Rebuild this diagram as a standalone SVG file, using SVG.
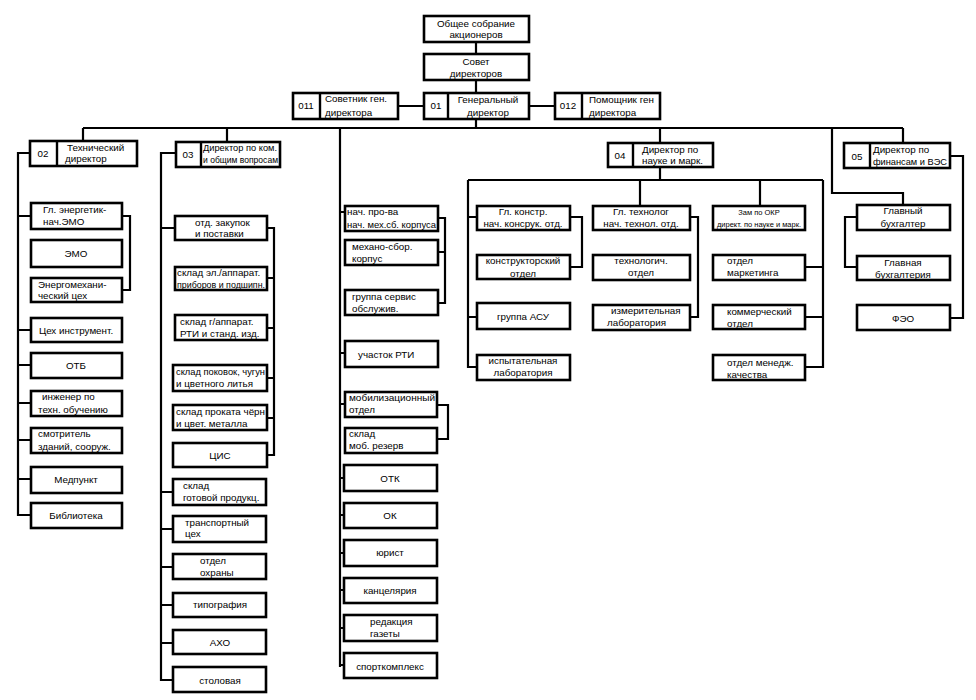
<svg xmlns="http://www.w3.org/2000/svg" width="976" height="700" viewBox="0 0 976 700">
<style>
rect{fill:#fff;stroke:#000;stroke-width:2.6}
line.d{stroke:#000;stroke-width:2.4}
text{font-family:"Liberation Sans",Arial,sans-serif;font-size:9.8px;fill:#000}
.c{text-anchor:middle}
.s{font-size:7.5px}
#conn path{fill:none;stroke:#000;stroke-width:2.2}
</style>
<rect x="0" y="0" width="976" height="700" style="stroke:none"/>
<g id="conn">
<path d="M476 42V54M476 80V93M476 119V128M398 106H424M529 106H555"/>
<path d="M83 128H903M83 128V141M227 128V142M340 128V667M660 128V143M660 167V180M903 128V143M832 128V193H903V205"/>
<path d="M30 153H18V515H31M18 216H31M18 330H31M18 365H31M18 403H31M18 440H31M18 479H31"/>
<path d="M122 216H130V290H122"/>
<path d="M176 153H161V680H173M161 228H175M161 492H173M161 529H173M161 567H173M161 605H173M161 643H173"/>
<path d="M267 228H274V455H267M267 278H274M267 328H274M267 378H274M267 418H274"/>
<path d="M340 212H345M340 353H345M340 404H345M340 478H344M340 515H344M340 553H344M340 590H344M340 628H344M340 665H344"/>
<path d="M438 218H445V303H438M438 252H445"/>
<path d="M437 405H448V439H437"/>
<path d="M468 180H823M468 180V367H477M468 217H477M468 317H477"/>
<path d="M570 217H582V267H570"/>
<path d="M640 180V206M760 180V206"/>
<path d="M690 217H698V317H690"/>
<path d="M823 180V367H805M823 267H805M823 317H805"/>
<path d="M950 156H963V318H950"/>
<path d="M857 217H845V267H857"/>
</g>

<g id="n_assembly"><rect x="424" y="16" width="105" height="26"/><text class="c" x="476" y="27">Общее собрание</text><text class="c" x="476" y="38">акционеров</text></g>
<g id="n_board"><rect x="424" y="54" width="105" height="26"/><text class="c" x="476" y="65">Совет</text><text class="c" x="476" y="77">директоров</text></g>
<g id="n_01"><rect x="424" y="93" width="105" height="26"/><line class="d" x1="448" y1="93" x2="448" y2="119"/><text class="c" x="436" y="109">01</text><text class="c" x="488" y="103">Генеральный</text><text class="c" x="488" y="116">директор</text></g>
<g id="n_011"><rect x="293" y="93" width="105" height="26"/><line class="d" x1="320" y1="93" x2="320" y2="119"/><text class="c" x="306" y="109">011</text><text x="325" y="102">Советник ген.</text><text x="325" y="116">директора</text></g>
<g id="n_012"><rect x="555" y="93" width="105" height="26"/><line class="d" x1="582" y1="93" x2="582" y2="119"/><text class="c" x="568" y="109">012</text><text x="589" y="103">Помощник ген</text><text x="589" y="116">директора</text></g>

<g id="n_02"><rect x="30" y="141" width="107" height="25"/><line class="d" x1="57" y1="141" x2="57" y2="166"/><text class="c" x="43" y="157">02</text><text x="67" y="151">Технический</text><text x="65" y="162">директор</text></g>
<g id="n_energ"><rect x="31" y="203" width="91" height="26"/><text x="43" y="213">Гл. энергетик-</text><text x="43" y="225">нач.ЭМО</text></g>
<g id="n_emo"><rect x="31" y="240" width="91" height="27"/><text class="c" x="76" y="257">ЭМО</text></g>
<g id="n_energmech"><rect x="31" y="278" width="91" height="24"/><text x="38" y="288">Энергомехани-</text><text x="38" y="299">ческий цех</text></g>
<g id="n_tool"><rect x="31" y="318" width="91" height="24"/><text class="c" x="76" y="334">Цех инструмент.</text></g>
<g id="n_otb"><rect x="31" y="353" width="91" height="25"/><text class="c" x="76" y="369">ОТБ</text></g>
<g id="n_eng"><rect x="31" y="391" width="91" height="25"/><text x="42" y="400">инженер по</text><text x="38" y="413">техн. обучению</text></g>
<g id="n_watch"><rect x="31" y="428" width="91" height="25"/><text x="38" y="437">смотритель</text><text x="38" y="450">зданий, сооруж.</text></g>
<g id="n_med"><rect x="31" y="467" width="91" height="26"/><text class="c" x="76" y="483">Медпункт</text></g>
<g id="n_lib"><rect x="31" y="503" width="91" height="25"/><text class="c" x="76" y="519">Библиотека</text></g>

<g id="n_03"><rect x="176" y="142" width="104" height="25"/><line class="d" x1="201" y1="142" x2="201" y2="167"/><text class="c" x="188" y="158">03</text><text x="203" y="151" textLength="74" lengthAdjust="spacingAndGlyphs">Директор по ком.</text><text x="203" y="163" textLength="75" lengthAdjust="spacingAndGlyphs">и общим вопросам</text></g>
<g id="n_purch"><rect x="175" y="216" width="92" height="24"/><text x="195" y="226">отд. закупок</text><text x="195" y="237">и поставки</text></g>
<g id="n_s1"><rect x="175" y="267" width="92" height="23"/><text x="177" y="276">склад эл./аппарат.</text><text x="177" y="288" textLength="88" lengthAdjust="spacingAndGlyphs">приборов и подшипн.</text></g>
<g id="n_s2"><rect x="175" y="315" width="92" height="25"/><text x="180" y="325">склад г/аппарат.</text><text x="180" y="337">РТИ и станд. изд.</text></g>
<g id="n_s3"><rect x="173" y="365" width="94" height="26"/><text x="176" y="375" textLength="89" lengthAdjust="spacingAndGlyphs">склад поковок, чугун</text><text x="176" y="387">и цветного литья</text></g>
<g id="n_s4"><rect x="173" y="405" width="94" height="25"/><text x="176" y="415" textLength="89" lengthAdjust="spacingAndGlyphs">склад проката чёрн</text><text x="176" y="427">и цвет. металла</text></g>
<g id="n_cis"><rect x="173" y="443" width="94" height="24"/><text class="c" x="220" y="459">ЦИС</text></g>
<g id="n_s5"><rect x="173" y="479" width="93" height="26"/><text x="183" y="489">склад</text><text x="183" y="501">готовой продукц.</text></g>
<g id="n_trans"><rect x="173" y="516" width="93" height="26"/><text x="185" y="526">транспортный</text><text x="185" y="537">цех</text></g>
<g id="n_guard"><rect x="173" y="554" width="93" height="25"/><text x="200" y="564">отдел</text><text x="200" y="576">охраны</text></g>
<g id="n_print"><rect x="173" y="593" width="93" height="24"/><text class="c" x="220" y="608">типография</text></g>
<g id="n_aho"><rect x="173" y="630" width="93" height="24"/><text class="c" x="220" y="646">АХО</text></g>
<g id="n_canteen"><rect x="173" y="667" width="93" height="25"/><text class="c" x="220" y="684">столовая</text></g>

<g id="n_prod"><rect x="345" y="206" width="93" height="25"/><text x="347" y="215">нач. про-ва</text><text x="347" y="228" textLength="89" lengthAdjust="spacingAndGlyphs">нач. мех.сб. корпуса</text></g>
<g id="n_mech"><rect x="345" y="240" width="93" height="25"/><text x="352" y="250">механо-сбор.</text><text x="352" y="262">корпус</text></g>
<g id="n_serv"><rect x="345" y="290" width="93" height="25"/><text x="352" y="300">группа сервис</text><text x="352" y="312">обслужив.</text></g>
<g id="n_rti"><rect x="345" y="341" width="93" height="26"/><text x="358" y="358">участок РТИ</text></g>
<g id="n_mob"><rect x="345" y="392" width="92" height="25"/><text x="349" y="401" textLength="86" lengthAdjust="spacingAndGlyphs">мобилизационный</text><text x="349" y="413">отдел</text></g>
<g id="n_mobres"><rect x="345" y="428" width="92" height="25"/><text x="349" y="437">склад</text><text x="349" y="449">моб. резерв</text></g>
<g id="n_otk"><rect x="344" y="465" width="93" height="26"/><text class="c" x="390" y="482">ОТК</text></g>
<g id="n_ok"><rect x="344" y="503" width="93" height="25"/><text class="c" x="390" y="519">ОК</text></g>
<g id="n_law"><rect x="344" y="540" width="93" height="26"/><text class="c" x="390" y="556">юрист</text></g>
<g id="n_office"><rect x="344" y="578" width="93" height="25"/><text class="c" x="390" y="594">канцелярия</text></g>
<g id="n_news"><rect x="344" y="615" width="93" height="26"/><text x="370" y="625">редакция</text><text x="370" y="637">газеты</text></g>
<g id="n_sport"><rect x="344" y="653" width="93" height="25"/><text class="c" x="390" y="670">спорткомплекс</text></g>

<g id="n_04"><rect x="608" y="143" width="105" height="24"/><line class="d" x1="633" y1="143" x2="633" y2="167"/><text class="c" x="620" y="159">04</text><text x="642" y="153">Директор по</text><text x="642" y="164">науке и марк.</text></g>
<g id="n_constr"><rect x="477" y="206" width="93" height="24"/><text class="c" x="523" y="215">Гл. констр.</text><text class="c" x="523" y="227">нач. консрук. отд.</text></g>
<g id="n_kb"><rect x="477" y="255" width="93" height="24"/><text class="c" x="523" y="264">конструкторский</text><text class="c" x="523" y="277">отдел</text></g>
<g id="n_asu"><rect x="477" y="303" width="93" height="26"/><text class="c" x="523" y="320">группа АСУ</text></g>
<g id="n_test"><rect x="477" y="355" width="93" height="25"/><text class="c" x="523" y="364">испытательная</text><text class="c" x="523" y="376">лаборатория</text></g>
<g id="n_tech"><rect x="593" y="206" width="97" height="24"/><text class="c" x="641" y="215">Гл. технолог</text><text class="c" x="641" y="227">нач. технол. отд.</text></g>
<g id="n_techo"><rect x="593" y="255" width="97" height="25"/><text class="c" x="641" y="264">технологич.</text><text class="c" x="641" y="276">отдел</text></g>
<g id="n_meas"><rect x="593" y="305" width="97" height="25"/><text x="611" y="314">измерительная</text><text x="607" y="326">лаборатория</text></g>
<g id="n_okr"><rect x="713" y="206" width="92" height="24"/><text class="c s" x="759" y="215">Зам по ОКР</text><text class="c s" x="759" y="227">директ. по науке и марк.</text></g>
<g id="n_mark"><rect x="713" y="255" width="92" height="25"/><text x="727" y="264">отдел</text><text x="727" y="276">маркетинга</text></g>
<g id="n_comm"><rect x="713" y="305" width="92" height="24"/><text x="727" y="315">коммерческий</text><text x="727" y="327">отдел</text></g>
<g id="n_qm"><rect x="713" y="355" width="92" height="25"/><text x="727" y="366">отдел менедж.</text><text x="727" y="378">качества</text></g>

<g id="n_05"><rect x="844" y="143" width="106" height="25"/><line class="d" x1="870" y1="143" x2="870" y2="168"/><text class="c" x="857" y="160">05</text><text x="873" y="153">Директор по</text><text x="873" y="165" textLength="74" lengthAdjust="spacingAndGlyphs">финансам и ВЭС</text></g>
<g id="n_acc"><rect x="857" y="205" width="93" height="25"/><text class="c" x="903" y="214">Главный</text><text class="c" x="903" y="227">бухгалтер</text></g>
<g id="n_accd"><rect x="857" y="256" width="93" height="24"/><text class="c" x="903" y="266">Главная</text><text class="c" x="903" y="278">бухгалтерия</text></g>
<g id="n_feo"><rect x="857" y="305" width="93" height="25"/><text class="c" x="903" y="322">ФЭО</text></g>
</svg>
